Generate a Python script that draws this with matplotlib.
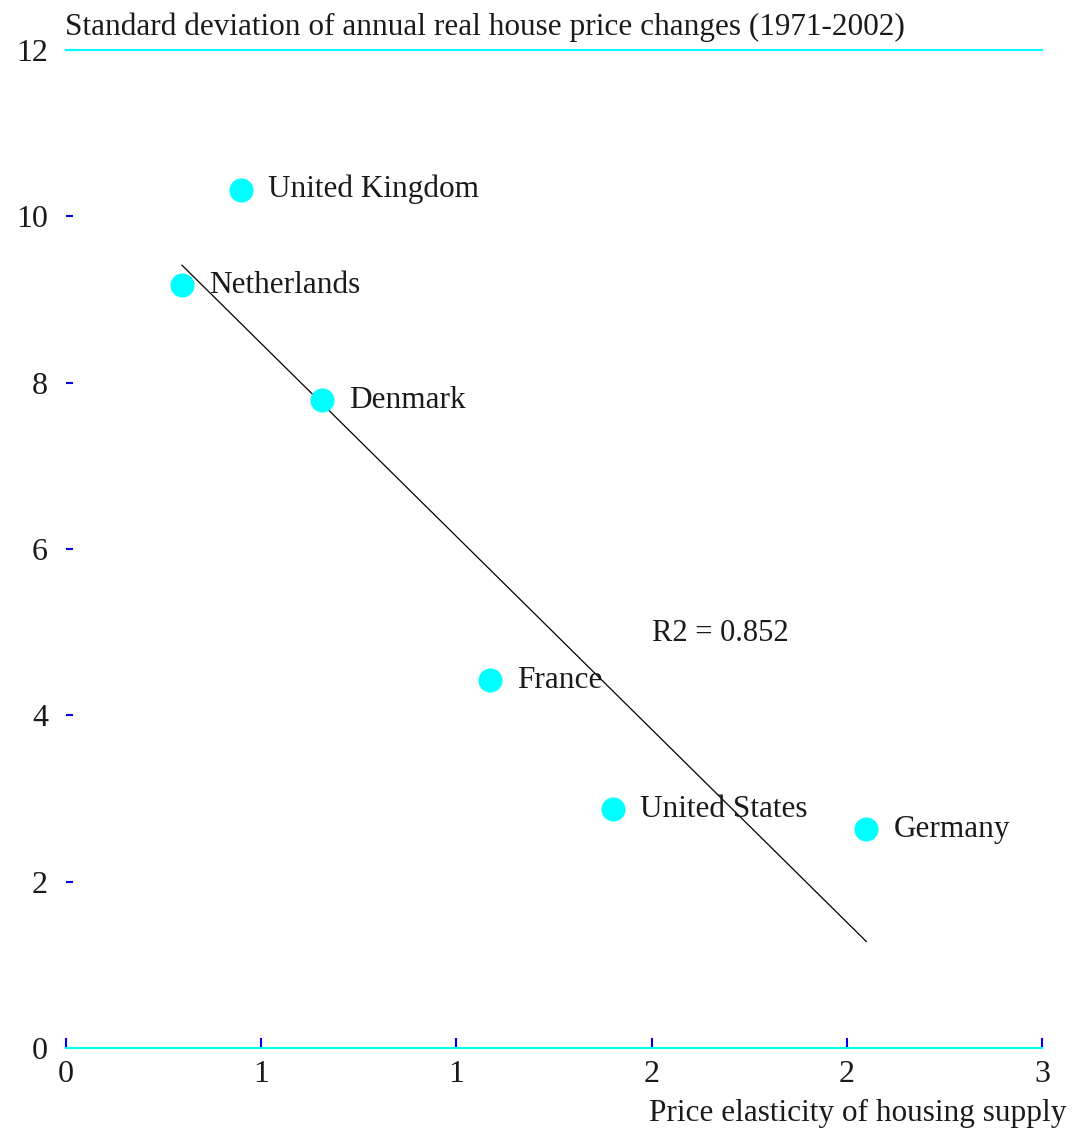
import matplotlib
matplotlib.use("Agg")
import matplotlib.pyplot as plt
import numpy as np

plt.rcParams['font.family'] = ['Liberation Serif', 'DejaVu Serif']

# Data
countries = ["United Kingdom", "Netherlands", "Denmark", "France", "United States", "Germany"]
elasticity = [0.448, 0.297, 0.656, 1.086, 1.40, 2.05]
std_dev = [10.32, 9.17, 7.79, 4.42, 2.87, 2.63]
x_ticks = [0, 0.5, 1.0, 1.5, 2.0, 2.5]
x_tick_labels = ["0", "1", "1", "2", "2", "3"]
y_ticks = [0, 2, 4, 6, 8, 10, 12]

x = np.array(elasticity)
y = np.array(std_dev)

fig = plt.figure(figsize=(10.73, 11.32), dpi=100)
ax = fig.add_axes([66 / 1073, 1 - 1048 / 1132, (1042 - 66) / 1073, (1048 - 50) / 1132])

ax.scatter(x, y, s=300, color='#00ffff', zorder=3, linewidths=0)

# linear fit line across data range
slope, intercept = np.polyfit(x, y, 1)
xl = np.array([x.min(), x.max()])
ax.plot(xl, slope * xl + intercept, color='black', lw=0.9, zorder=2)

for name, xi, yi in zip(countries, x, y):
    ax.annotate(name, (xi, yi), xytext=(19.5, 0), textcoords='offset points',
                va='center', ha='left', fontsize=22.5, color='#1a1a1a', zorder=4)

ax.text(1.5, 4.98, "R2 = 0.852", fontsize=22, va='center', ha='left', color='#1a1a1a')

ax.set_xlim(0, 2.5)
ax.set_ylim(0, 12)

for s in ['left', 'right']:
    ax.spines[s].set_visible(False)
for s in ['top', 'bottom']:
    ax.spines[s].set_color('#00ffff')
    ax.spines[s].set_linewidth(1.5)

ax.set_xticks(x_ticks)
ax.set_xticklabels(x_tick_labels)
ax.set_yticks(y_ticks)
ax.tick_params(axis='x', direction='in', length=7, width=1.5, color='#0000ee',
               labelsize=23, pad=9, top=False, labelcolor='#1a1a1a')
ax.tick_params(axis='y', direction='in', length=5, width=1.5, color='#0000ee',
               labelsize=23, pad=13, labelcolor='#1a1a1a')

fig.text(65 / 1073, 1 - 27 / 1132, "Standard deviation of annual real house price changes (1971-2002)",
         fontsize=22.5, ha='left', va='center', color='#1a1a1a')
fig.text(1066 / 1073, 1 - 1113 / 1132, "Price elasticity of housing supply",
         fontsize=22.5, ha='right', va='center', color='#1a1a1a')

fig.savefig("out.png", dpi=100)
